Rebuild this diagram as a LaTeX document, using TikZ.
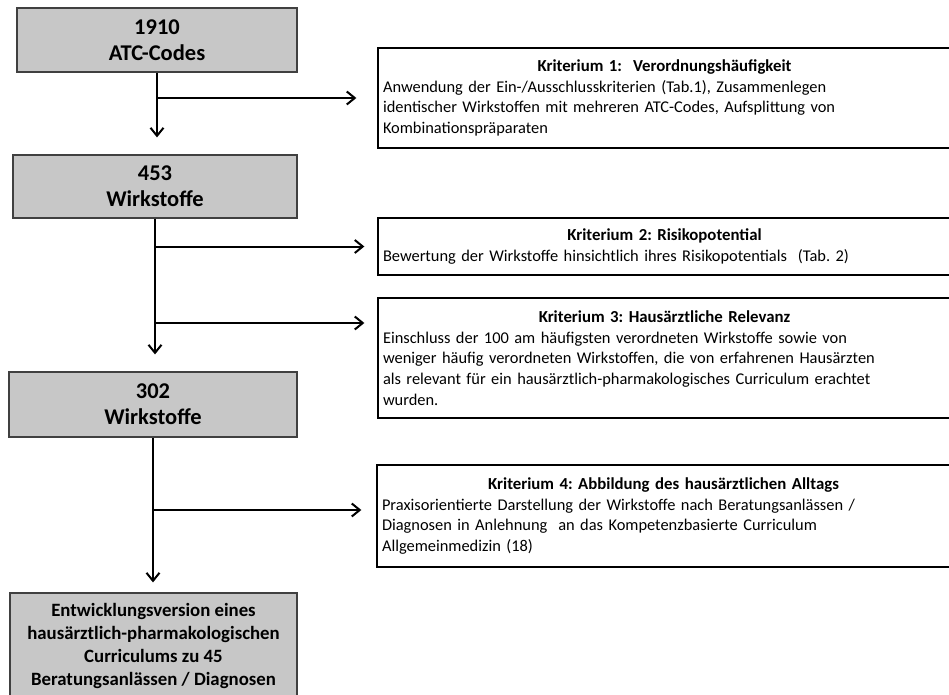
\documentclass[tikz,border=0pt]{standalone}
\usepackage{fontspec}
\setmainfont{Carlito}
\usetikzlibrary{arrows.meta}
\tikzset{
  stage/.style={draw=black!75, fill=black!22, line width=1.2pt, align=center,
    inner sep=0pt, font=\bfseries\fontsize{22.5}{26}\selectfont},
  crit/.style={draw, line width=1.3pt, minimum width=573pt, text width=563pt,
    inner xsep=5pt, inner ysep=0pt, font=\fontsize{16.4}{20.8}\selectfont},
  flow/.style={line width=2pt, -{Straight Barb[length=8pt,width=13pt]}}
}

\begin{document}
\frenchspacing
\begin{tikzpicture}[x=1pt,y=-1pt]
\useasboundingbox (0,0) rectangle (949,695);
\clip (0,0) rectangle (949,695);
\node[stage, minimum width=280pt, minimum height=64pt] (b1) at (157,40) {1910\\ATC-Codes};
\node[stage, minimum width=284pt, minimum height=63pt] (b2) at (155,186.5) {453\\Wirkstoffe};
\node[stage, minimum width=288pt, minimum height=65pt] (b3) at (153,404.5) {302\\Wirkstoffe};
\node[stage, minimum width=287pt, minimum height=105pt, font=\bfseries\fontsize{18.8}{23}\selectfont]
  (b4) at (153.5,645.5) {Entwicklungsversion eines\\hausärztlich-pharmakologischen\\Curriculums zu 45\\Beratungsanlässen / Diagnosen};
\node[crit, minimum height=100pt] (k1) at (664.5,98) {\centering\textbf{\fontsize{16.8}{20.8}\selectfont Kriterium 1:\ \ Verordnungshäufigkeit}\par
  \raggedright Anwendung der Ein-/Ausschlusskriterien (Tab.1), Zusammenlegen\\
  identischer Wirkstoffen mit mehreren ATC-Codes, Aufsplittung von\\
  Kombinationspräparaten};
\node[crit, minimum height=57pt] (k2) at (664.5,246.5) {\centering\textbf{\fontsize{16.8}{20.8}\selectfont Kriterium 2: Risikopotential}\par
  \raggedright Bewertung der Wirkstoffe hinsichtlich ihres Risikopotentials\ \ (Tab. 2)};
\node[crit, minimum height=120pt] (k3) at (664.5,358) {\centering\textbf{\fontsize{16.8}{20.8}\selectfont Kriterium 3: Hausärztliche Relevanz}\par
  \raggedright Einschluss der 100 am häufigsten verordneten Wirkstoffe sowie von\\
  weniger häufig verordneten Wirkstoffen, die von erfahrenen Hausärzten\\
  als relevant für ein hausärztlich-pharmakologisches Curriculum erachtet\\
  wurden.};
\node[crit, minimum height=102pt] (k4) at (663.5,516) {\centering\textbf{\fontsize{16.8}{20.8}\selectfont Kriterium 4: Abbildung des hausärztlichen Alltags}\par
  \raggedright Praxisorientierte Darstellung der Wirkstoffe nach Beratungsanlässen /\\
  Diagnosen in Anlehnung\ \ an das Kompetenzbasierte Curriculum\\
  Allgemeinmedizin (18)};
\coordinate (r3) at (155,323);
\coordinate (r4) at (153,510);
\draw[flow, shorten >=17pt] (b1) -- (b1 |- b2.north);
\draw[flow, shorten >=21pt] (b1 |- k1.west) -- (k1.west);
\draw[flow, shorten >=17pt] (b2) -- (b2 |- b3.north);
\draw[flow, shorten >=13pt] (b2 |- k2.west) -- (k2.west);
\draw[flow, shorten >=13pt] (r3) -- (r3 -| k3.west);
\draw[flow, shorten >=10pt] (b3) -- (b3 |- b4.north);
\draw[flow, shorten >=15pt] (r4) -- (r4 -| k4.west);
\end{tikzpicture}
\end{document}
